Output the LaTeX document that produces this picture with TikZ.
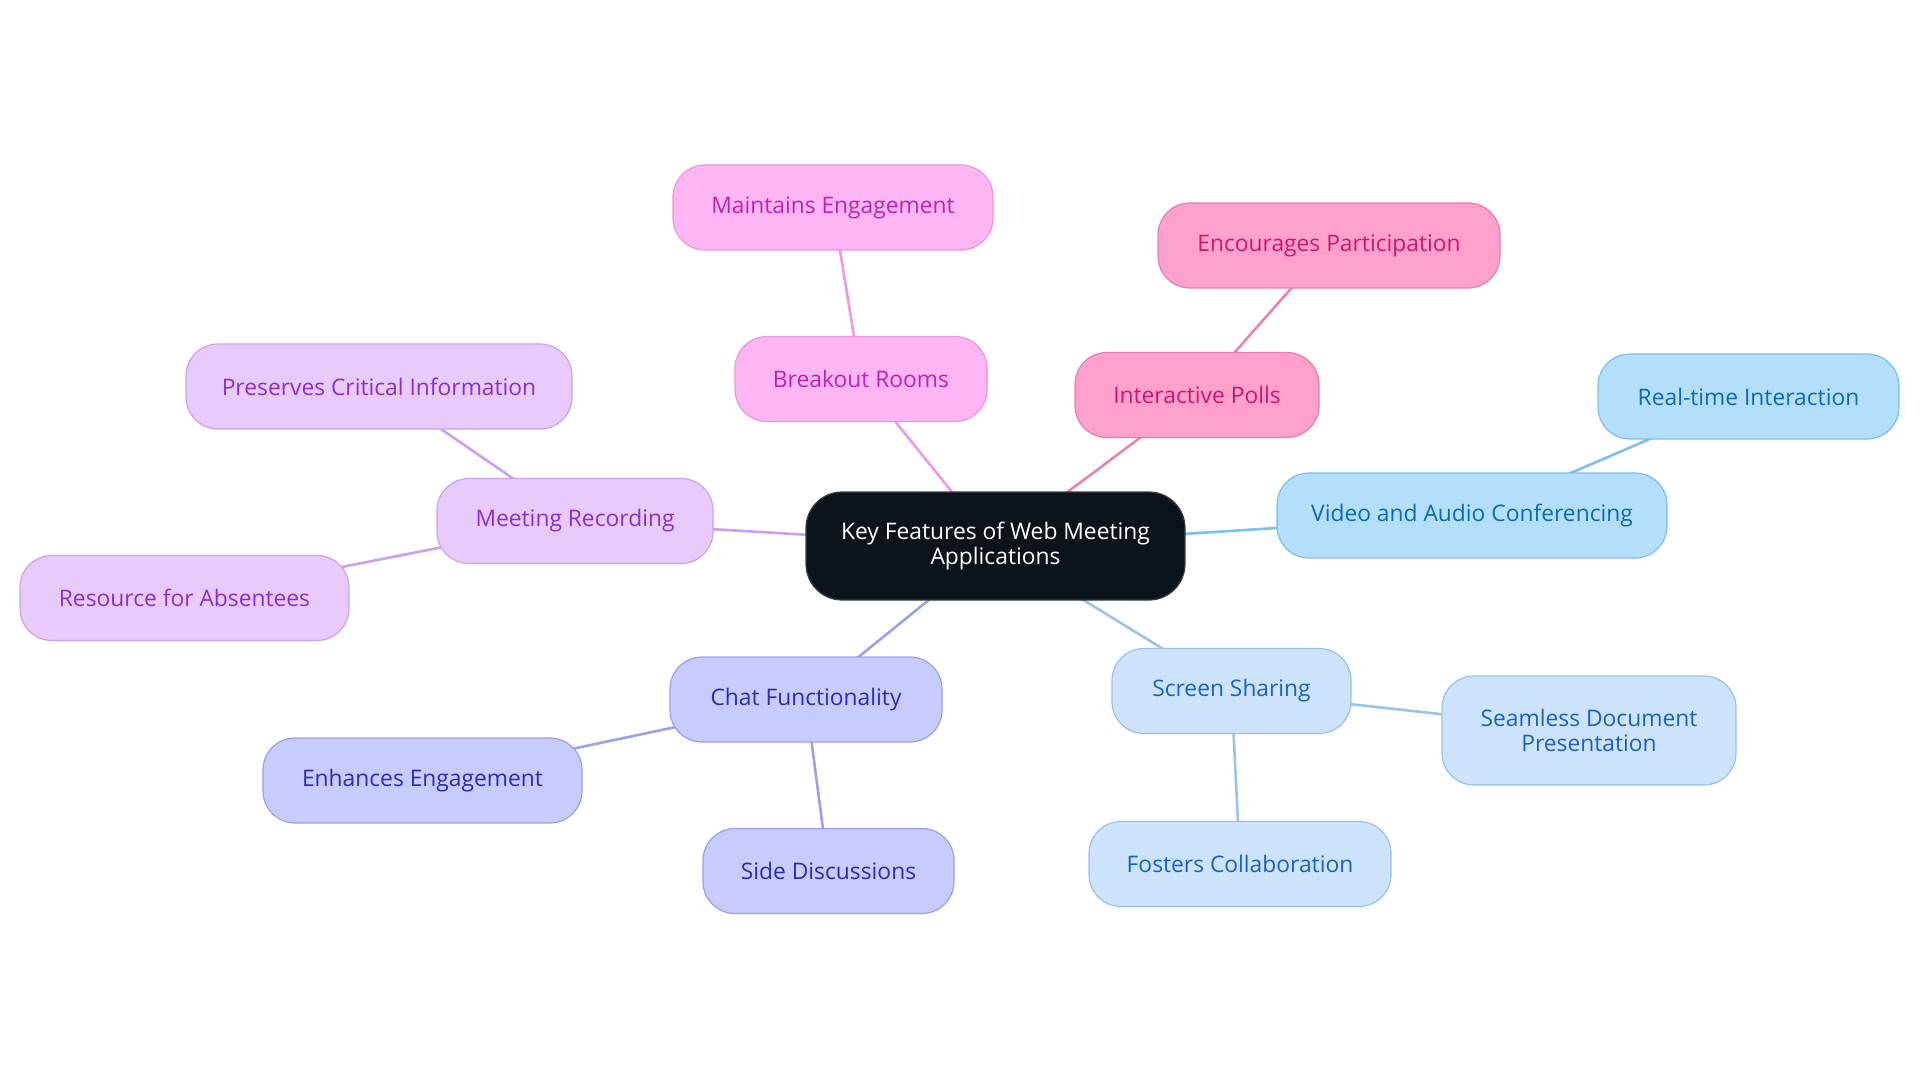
\documentclass[tikz,border=0pt]{standalone}
\usepackage{fontspec}
\setmainfont{Open Sans}
\usetikzlibrary{backgrounds}
\definecolor{rootfill}{HTML}{0C131A}
\definecolor{rootdraw}{HTML}{3A3F45}
\definecolor{pkfill}{HTML}{FDB5F4}
\definecolor{pkdraw}{HTML}{E896DE}
\definecolor{pktext}{HTML}{BE22B4}
\definecolor{pkline}{HTML}{E99BE2}
\definecolor{rofill}{HTML}{FFA1CC}
\definecolor{rodraw}{HTML}{E67CB2}
\definecolor{rotext}{HTML}{CF1470}
\definecolor{roline}{HTML}{E584B4}
\definecolor{bufill}{HTML}{B4DFFC}
\definecolor{budraw}{HTML}{7DBDEA}
\definecolor{butext}{HTML}{0C6AB2}
\definecolor{buline}{HTML}{7EBEE8}
\definecolor{lbfill}{HTML}{CDE3FB}
\definecolor{lbdraw}{HTML}{98C0EB}
\definecolor{lbtext}{HTML}{1A62BC}
\definecolor{lbline}{HTML}{9DC1E9}
\definecolor{pufill}{HTML}{E9CAFC}
\definecolor{pudraw}{HTML}{CDA0EC}
\definecolor{putext}{HTML}{8A2FC8}
\definecolor{puline}{HTML}{C9A0E9}
\definecolor{infill}{HTML}{C8CBFD}
\definecolor{indraw}{HTML}{9A9EE8}
\definecolor{intext}{HTML}{2C2CB2}
\definecolor{inline}{HTML}{9DA0E7}
\begin{document}
\begin{tikzpicture}[x=1pt,y=-1pt,
  box/.style={rectangle, rounded corners=32pt, minimum height=85pt, inner sep=0pt, align=center,
    font=\fontsize{22.8}{25}\selectfont, line width=1.2pt},
  pkbox/.style={box, fill=pkfill, draw=pkdraw, text=pktext},
  robox/.style={box, fill=rofill, draw=rodraw, text=rotext},
  bubox/.style={box, fill=bufill, draw=budraw, text=butext},
  lbbox/.style={box, fill=lbfill, draw=lbdraw, text=lbtext},
  pubox/.style={box, fill=pufill, draw=pudraw, text=putext},
  inbox/.style={box, fill=infill, draw=indraw, text=intext},
  rootbox/.style={box, fill=rootfill, draw=rootdraw, text=white, minimum height=108pt, rounded corners=36pt},
  conn/.style={line width=2.6pt}]
\useasboundingbox (0,0) rectangle (1920,1083);
\node[rootbox, minimum width=379pt] (root) at (995.5,546) {Key Features of Web Meeting\\Applications};
\node[pkbox, minimum width=320pt] (me) at (833,207.5) {Maintains Engagement};
\node[pkbox, minimum width=252pt] (br) at (861,379) {Breakout Rooms};
\node[robox, minimum width=342pt] (ep) at (1329,245.5) {Encourages Participation};
\node[robox, minimum width=244pt] (ip) at (1197,395) {Interactive Polls};
\node[bubox, minimum width=301pt] (rt) at (1748.5,396.5) {Real-time Interaction};
\node[bubox, minimum width=390pt] (va) at (1472,515.5) {Video and Audio Conferencing};
\node[pubox, minimum width=386pt] (pc) at (379,386.5) {Preserves Critical Information};
\node[pubox, minimum width=276pt] (mr) at (575,521) {Meeting Recording};
\node[pubox, minimum width=329pt] (ra) at (184.5,598) {Resource for Absentees};
\node[inbox, minimum width=272pt] (cf) at (806,699.5) {Chat Functionality};
\node[inbox, minimum width=319pt] (ee) at (422.5,780.5) {Enhances Engagement};
\node[inbox, minimum width=251pt] (sd) at (828.5,871) {Side Discussions};
\node[lbbox, minimum width=239pt] (ss) at (1231.5,691) {Screen Sharing};
\node[lbbox, minimum width=294pt, minimum height=109pt] (sdp) at (1589,730.5) {Seamless Document\\Presentation};
\node[lbbox, minimum width=302pt] (fc) at (1240,864) {Fosters Collaboration};
\begin{scope}[on background layer]
\draw[conn, pkline] (root.center) -- (br.center);
\draw[conn, pkline] (br.center) -- (me.center);
\draw[conn, roline] (root.center) -- (ip.center);
\draw[conn, roline] (ip.center) -- (ep.center);
\draw[conn, buline] (root.center) -- (va.center);
\draw[conn, buline] (va.center) -- (rt.center);
\draw[conn, puline] (root.center) -- (mr.center);
\draw[conn, puline] (mr.center) -- (pc.center);
\draw[conn, puline] (mr.center) -- (ra.center);
\draw[conn, inline] (root.center) -- (cf.center);
\draw[conn, inline] (cf.center) -- (ee.center);
\draw[conn, inline] (cf.center) -- (sd.center);
\draw[conn, lbline] (root.center) -- (ss.center);
\draw[conn, lbline] (ss.center) -- (sdp.center);
\draw[conn, lbline] (ss.center) -- (fc.center);
\end{scope}
\end{tikzpicture}
\end{document}
